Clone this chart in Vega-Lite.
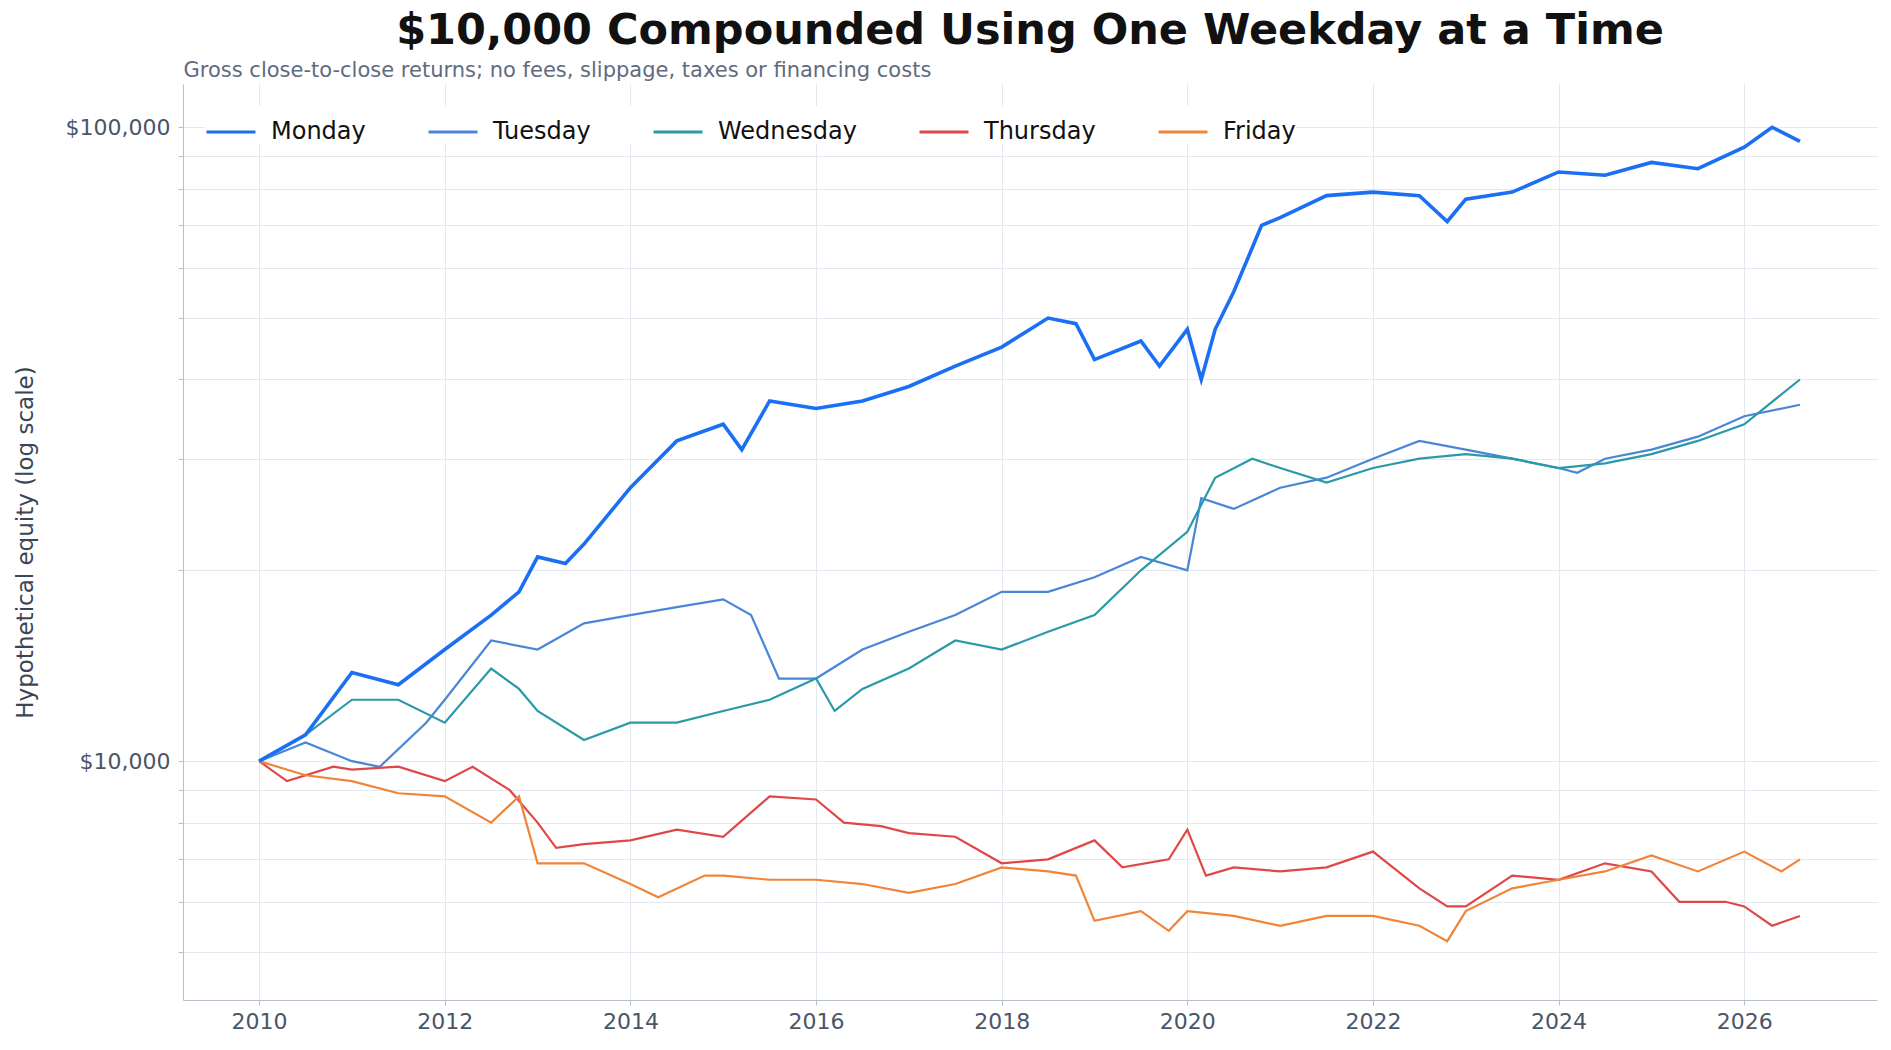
{
  "$schema": "https://vega.github.io/schema/vega-lite/v6.json",
  "width": 1891,
  "height": 1050,
  "autosize": {"type": "fit", "contains": "padding"},
  "padding": {"left": 14, "right": 14, "top": 10, "bottom": 18},
  "background": "white",
  "config": {
    "font": "DejaVu Sans",
    "view": {"stroke": null},
    "axis": {"labelFont": "DejaVu Sans", "titleFont": "DejaVu Sans", "labelColor": "#4a5568", "titleColor": "#3a4556", "labelFontSize": 22, "titleFontSize": 23, "titleFontWeight": "normal", "gridColor": "#e4e8ef", "domainColor": "#b8c0cc", "tickColor": "#b8c0cc"}
  },
  "title": {"text": "$10,000 Compounded Using One Weekday at a Time", "fontSize": 43, "fontWeight": "bold", "color": "#111111", "anchor": "middle", "offset": 6},
  "data": {"values": [
    {"day":"Monday","t":2010.0,"v":10000},{"day":"Monday","t":2010.5,"v":11000},{"day":"Monday","t":2011.0,"v":13800},{"day":"Monday","t":2011.5,"v":13200},{"day":"Monday","t":2012.0,"v":15000},{"day":"Monday","t":2012.5,"v":17000},{"day":"Monday","t":2012.8,"v":18500},{"day":"Monday","t":2013.0,"v":21000},{"day":"Monday","t":2013.3,"v":20500},{"day":"Monday","t":2013.5,"v":22000},{"day":"Monday","t":2014.0,"v":27000},{"day":"Monday","t":2014.5,"v":32000},{"day":"Monday","t":2015.0,"v":34000},{"day":"Monday","t":2015.2,"v":31000},{"day":"Monday","t":2015.5,"v":37000},{"day":"Monday","t":2016.0,"v":36000},{"day":"Monday","t":2016.5,"v":37000},{"day":"Monday","t":2017.0,"v":39000},{"day":"Monday","t":2017.5,"v":42000},{"day":"Monday","t":2018.0,"v":45000},{"day":"Monday","t":2018.5,"v":50000},{"day":"Monday","t":2018.8,"v":49000},{"day":"Monday","t":2019.0,"v":43000},{"day":"Monday","t":2019.5,"v":46000},{"day":"Monday","t":2019.7,"v":42000},{"day":"Monday","t":2020.0,"v":48000},{"day":"Monday","t":2020.15,"v":40000},{"day":"Monday","t":2020.3,"v":48000},{"day":"Monday","t":2020.5,"v":55000},{"day":"Monday","t":2020.8,"v":70000},{"day":"Monday","t":2021.0,"v":72000},{"day":"Monday","t":2021.5,"v":78000},{"day":"Monday","t":2022.0,"v":79000},{"day":"Monday","t":2022.5,"v":78000},{"day":"Monday","t":2022.8,"v":71000},{"day":"Monday","t":2023.0,"v":77000},{"day":"Monday","t":2023.5,"v":79000},{"day":"Monday","t":2024.0,"v":85000},{"day":"Monday","t":2024.5,"v":84000},{"day":"Monday","t":2025.0,"v":88000},{"day":"Monday","t":2025.5,"v":86000},{"day":"Monday","t":2026.0,"v":93000},{"day":"Monday","t":2026.3,"v":100000},{"day":"Monday","t":2026.6,"v":95000},
    {"day":"Tuesday","t":2010.0,"v":10000},{"day":"Tuesday","t":2010.5,"v":10700},{"day":"Tuesday","t":2011.0,"v":10000},{"day":"Tuesday","t":2011.3,"v":9800},{"day":"Tuesday","t":2011.8,"v":11500},{"day":"Tuesday","t":2012.0,"v":12500},{"day":"Tuesday","t":2012.5,"v":15500},{"day":"Tuesday","t":2013.0,"v":15000},{"day":"Tuesday","t":2013.5,"v":16500},{"day":"Tuesday","t":2014.0,"v":17000},{"day":"Tuesday","t":2014.5,"v":17500},{"day":"Tuesday","t":2015.0,"v":18000},{"day":"Tuesday","t":2015.3,"v":17000},{"day":"Tuesday","t":2015.6,"v":13500},{"day":"Tuesday","t":2016.0,"v":13500},{"day":"Tuesday","t":2016.5,"v":15000},{"day":"Tuesday","t":2017.0,"v":16000},{"day":"Tuesday","t":2017.5,"v":17000},{"day":"Tuesday","t":2018.0,"v":18500},{"day":"Tuesday","t":2018.5,"v":18500},{"day":"Tuesday","t":2019.0,"v":19500},{"day":"Tuesday","t":2019.5,"v":21000},{"day":"Tuesday","t":2020.0,"v":20000},{"day":"Tuesday","t":2020.15,"v":26000},{"day":"Tuesday","t":2020.5,"v":25000},{"day":"Tuesday","t":2021.0,"v":27000},{"day":"Tuesday","t":2021.5,"v":28000},{"day":"Tuesday","t":2022.0,"v":30000},{"day":"Tuesday","t":2022.5,"v":32000},{"day":"Tuesday","t":2023.0,"v":31000},{"day":"Tuesday","t":2023.5,"v":30000},{"day":"Tuesday","t":2024.0,"v":29000},{"day":"Tuesday","t":2024.2,"v":28500},{"day":"Tuesday","t":2024.5,"v":30000},{"day":"Tuesday","t":2025.0,"v":31000},{"day":"Tuesday","t":2025.5,"v":32500},{"day":"Tuesday","t":2026.0,"v":35000},{"day":"Tuesday","t":2026.6,"v":36500},
    {"day":"Wednesday","t":2010.0,"v":10000},{"day":"Wednesday","t":2010.5,"v":11000},{"day":"Wednesday","t":2011.0,"v":12500},{"day":"Wednesday","t":2011.5,"v":12500},{"day":"Wednesday","t":2012.0,"v":11500},{"day":"Wednesday","t":2012.5,"v":14000},{"day":"Wednesday","t":2012.8,"v":13000},{"day":"Wednesday","t":2013.0,"v":12000},{"day":"Wednesday","t":2013.5,"v":10800},{"day":"Wednesday","t":2014.0,"v":11500},{"day":"Wednesday","t":2014.5,"v":11500},{"day":"Wednesday","t":2015.0,"v":12000},{"day":"Wednesday","t":2015.5,"v":12500},{"day":"Wednesday","t":2016.0,"v":13500},{"day":"Wednesday","t":2016.2,"v":12000},{"day":"Wednesday","t":2016.5,"v":13000},{"day":"Wednesday","t":2017.0,"v":14000},{"day":"Wednesday","t":2017.5,"v":15500},{"day":"Wednesday","t":2018.0,"v":15000},{"day":"Wednesday","t":2018.5,"v":16000},{"day":"Wednesday","t":2019.0,"v":17000},{"day":"Wednesday","t":2019.5,"v":20000},{"day":"Wednesday","t":2020.0,"v":23000},{"day":"Wednesday","t":2020.3,"v":28000},{"day":"Wednesday","t":2020.7,"v":30000},{"day":"Wednesday","t":2021.0,"v":29000},{"day":"Wednesday","t":2021.5,"v":27500},{"day":"Wednesday","t":2022.0,"v":29000},{"day":"Wednesday","t":2022.5,"v":30000},{"day":"Wednesday","t":2023.0,"v":30500},{"day":"Wednesday","t":2023.5,"v":30000},{"day":"Wednesday","t":2024.0,"v":29000},{"day":"Wednesday","t":2024.5,"v":29500},{"day":"Wednesday","t":2025.0,"v":30500},{"day":"Wednesday","t":2025.5,"v":32000},{"day":"Wednesday","t":2026.0,"v":34000},{"day":"Wednesday","t":2026.6,"v":40000},
    {"day":"Thursday","t":2010.0,"v":10000},{"day":"Thursday","t":2010.3,"v":9300},{"day":"Thursday","t":2010.8,"v":9800},{"day":"Thursday","t":2011.0,"v":9700},{"day":"Thursday","t":2011.5,"v":9800},{"day":"Thursday","t":2012.0,"v":9300},{"day":"Thursday","t":2012.3,"v":9800},{"day":"Thursday","t":2012.7,"v":9000},{"day":"Thursday","t":2013.0,"v":8000},{"day":"Thursday","t":2013.2,"v":7300},{"day":"Thursday","t":2013.5,"v":7400},{"day":"Thursday","t":2014.0,"v":7500},{"day":"Thursday","t":2014.5,"v":7800},{"day":"Thursday","t":2015.0,"v":7600},{"day":"Thursday","t":2015.5,"v":8800},{"day":"Thursday","t":2016.0,"v":8700},{"day":"Thursday","t":2016.3,"v":8000},{"day":"Thursday","t":2016.7,"v":7900},{"day":"Thursday","t":2017.0,"v":7700},{"day":"Thursday","t":2017.5,"v":7600},{"day":"Thursday","t":2018.0,"v":6900},{"day":"Thursday","t":2018.5,"v":7000},{"day":"Thursday","t":2019.0,"v":7500},{"day":"Thursday","t":2019.3,"v":6800},{"day":"Thursday","t":2019.8,"v":7000},{"day":"Thursday","t":2020.0,"v":7800},{"day":"Thursday","t":2020.2,"v":6600},{"day":"Thursday","t":2020.5,"v":6800},{"day":"Thursday","t":2021.0,"v":6700},{"day":"Thursday","t":2021.5,"v":6800},{"day":"Thursday","t":2022.0,"v":7200},{"day":"Thursday","t":2022.5,"v":6300},{"day":"Thursday","t":2022.8,"v":5900},{"day":"Thursday","t":2023.0,"v":5900},{"day":"Thursday","t":2023.5,"v":6600},{"day":"Thursday","t":2024.0,"v":6500},{"day":"Thursday","t":2024.5,"v":6900},{"day":"Thursday","t":2025.0,"v":6700},{"day":"Thursday","t":2025.3,"v":6000},{"day":"Thursday","t":2025.8,"v":6000},{"day":"Thursday","t":2026.0,"v":5900},{"day":"Thursday","t":2026.3,"v":5500},{"day":"Thursday","t":2026.6,"v":5700},
    {"day":"Friday","t":2010.0,"v":10000},{"day":"Friday","t":2010.5,"v":9500},{"day":"Friday","t":2011.0,"v":9300},{"day":"Friday","t":2011.5,"v":8900},{"day":"Friday","t":2012.0,"v":8800},{"day":"Friday","t":2012.5,"v":8000},{"day":"Friday","t":2012.8,"v":8800},{"day":"Friday","t":2013.0,"v":6900},{"day":"Friday","t":2013.5,"v":6900},{"day":"Friday","t":2014.0,"v":6400},{"day":"Friday","t":2014.3,"v":6100},{"day":"Friday","t":2014.8,"v":6600},{"day":"Friday","t":2015.0,"v":6600},{"day":"Friday","t":2015.5,"v":6500},{"day":"Friday","t":2016.0,"v":6500},{"day":"Friday","t":2016.5,"v":6400},{"day":"Friday","t":2017.0,"v":6200},{"day":"Friday","t":2017.5,"v":6400},{"day":"Friday","t":2018.0,"v":6800},{"day":"Friday","t":2018.5,"v":6700},{"day":"Friday","t":2018.8,"v":6600},{"day":"Friday","t":2019.0,"v":5600},{"day":"Friday","t":2019.5,"v":5800},{"day":"Friday","t":2019.8,"v":5400},{"day":"Friday","t":2020.0,"v":5800},{"day":"Friday","t":2020.5,"v":5700},{"day":"Friday","t":2021.0,"v":5500},{"day":"Friday","t":2021.5,"v":5700},{"day":"Friday","t":2022.0,"v":5700},{"day":"Friday","t":2022.5,"v":5500},{"day":"Friday","t":2022.8,"v":5200},{"day":"Friday","t":2023.0,"v":5800},{"day":"Friday","t":2023.5,"v":6300},{"day":"Friday","t":2024.0,"v":6500},{"day":"Friday","t":2024.5,"v":6700},{"day":"Friday","t":2025.0,"v":7100},{"day":"Friday","t":2025.5,"v":6700},{"day":"Friday","t":2026.0,"v":7200},{"day":"Friday","t":2026.4,"v":6700},{"day":"Friday","t":2026.6,"v":7000}
  ]},
  "encoding": {
    "y": {"field": "v", "type": "quantitative", "scale": {"type": "log", "domain": [4200, 117000], "nice": false},
      "axis": {"title": "Hypothetical equity (log scale)", "values": [5000,6000,7000,8000,9000,10000,20000,30000,40000,50000,60000,70000,80000,90000,100000],
        "labelExpr": "datum.value == 10000 ? '$10,000' : datum.value == 100000 ? '$100,000' : ''", "ticks": true, "domain": true, "titlePadding": 28, "labelPadding": 8}},
    "color": {"field": "day", "type": "nominal",
      "scale": {"domain": ["Monday","Tuesday","Wednesday","Thursday","Friday"], "range": ["#1a6ff5","#4a86d8","#2a9aa8","#e04848","#f0853a"]},
      "legend": {"title": null, "orient": "top-left", "direction": "horizontal", "symbolType": "stroke", "symbolStrokeWidth": 3, "symbolSize": 2400, "labelFontSize": 24, "labelColor": "#111", "labelOffset": 14, "columnPadding": 56, "offset": 22, "fillColor": "white"}}
  },
  "layer": [
    {
      "transform": [{"filter": "datum.day != 'Monday'"}],
      "mark": {"type": "line", "strokeWidth": 2.2},
      "encoding": {
        "x": {"field": "t", "type": "quantitative", "scale": {"domain": [2009.18, 2027.43], "nice": false, "zero": false},
          "axis": {"title": null, "values": [2010,2012,2014,2016,2018,2020,2022,2024,2026], "format": "d", "labelPadding": 6}}
      }
    },
    {
      "transform": [{"filter": "datum.day == 'Monday'"}],
      "mark": {"type": "line", "strokeWidth": 3.6},
      "encoding": {
        "x": {"field": "t", "type": "quantitative", "scale": {"domain": [2009.18, 2027.43], "nice": false, "zero": false},
          "axis": {"orient": "top", "title": "Gross close-to-close returns; no fees, slippage, taxes or financing costs", "titleAnchor": "start", "titleAlign": "left", "titleFontSize": 21, "titleColor": "#5f6b80", "titlePadding": 4, "labels": false, "ticks": false, "domain": false, "grid": false}}
      }
    }
  ],
  "resolve": {"axis": {"x": "independent"}}
}
